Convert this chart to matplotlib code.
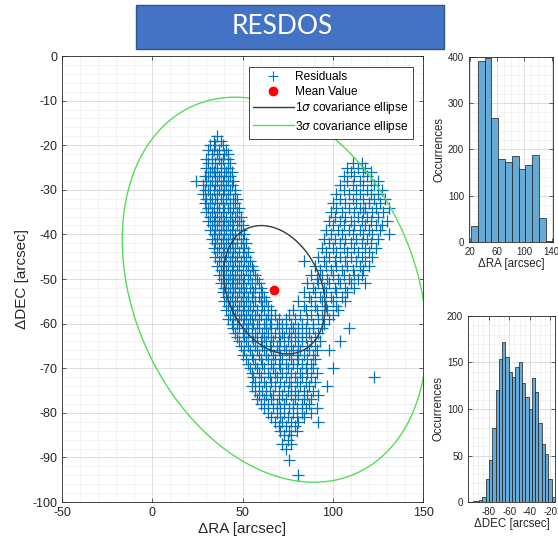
import numpy as np
import matplotlib
matplotlib.use('Agg')
import matplotlib.pyplot as plt
from matplotlib.patches import Rectangle
from matplotlib.lines import Line2D
from matplotlib.ticker import MultipleLocator

plt.rcParams['font.family'] = ['Liberation Sans', 'DejaVu Sans']
plt.rcParams['axes.unicode_minus'] = False

# residuals: (DEC, [RA values])
residual_rows = [
    (-18, [36]), (-19, [34, 38]), (-20, [32, 35, 39]), (-21, [31, 34, 37, 41]),
    (-22, [33, 36, 40, 42]), (-23, [30, 33, 37, 39, 42]),
    (-24, [31, 35, 38, 43, 111, 116]), (-25, [30, 33, 36, 40, 42, 108, 114, 118]),
    (-26, [32, 34, 38, 41, 44, 110, 117, 121]),
    (-27, [29, 31, 35, 37, 40, 43, 106, 112, 119]),
    (-28, [24, 30, 33, 36, 39, 42, 45, 108, 115, 121, 125]),
    (-29, [28, 32, 35, 38, 41, 44, 104, 111, 117, 123]),
    (-30, [29, 31, 34, 37, 40, 43, 46, 106, 113, 119, 127]),
    (-31, [28, 32, 36, 39, 42, 46, 102, 109, 115, 121, 125]),
    (-32, [30, 33, 35, 38, 41, 45, 47, 104, 111, 117, 123, 129]),
    (-33, [29, 32, 36, 39, 43, 46, 100, 107, 113, 120, 126]),
    (-34, [31, 34, 37, 40, 42, 45, 48, 102, 109, 115, 118, 124, 131]),
    (-35, [30, 33, 36, 39, 43, 47, 99, 105, 112, 117, 122, 128]),
    (-36, [32, 35, 38, 41, 44, 46, 49, 101, 107, 114, 119, 125]),
    (-37, [31, 34, 37, 40, 43, 48, 98, 104, 110, 116, 121, 130]),
    (-38, [33, 36, 39, 42, 45, 47, 50, 100, 106, 112, 118, 124, 127]),
    (-39, [32, 35, 38, 41, 44, 49, 96, 103, 109, 115, 120, 126]),
    (-40, [34, 37, 40, 43, 46, 48, 51, 99, 105, 111, 117, 122, 131]),
    (-41, [33, 36, 39, 42, 45, 50, 95, 101, 107, 113, 119, 125]),
    (-42, [35, 38, 41, 44, 47, 49, 52, 98, 104, 110, 116, 121]),
    (-43, [34, 37, 40, 43, 46, 51, 94, 100, 106, 112, 118, 124]),
    (-44, [36, 39, 42, 45, 48, 50, 53, 96, 102, 108, 114, 120]),
    (-45, [35, 38, 41, 44, 47, 52, 92, 98, 104, 110, 116, 122]),
    (-46, [37, 40, 43, 46, 49, 51, 54, 84, 95, 101, 107, 113, 118]),
    (-47, [36, 39, 42, 45, 48, 53, 55, 90, 96, 102, 108, 115, 120]),
    (-48, [38, 41, 44, 47, 50, 52, 56, 93, 99, 105, 111, 117]),
    (-49, [37, 40, 43, 46, 49, 54, 57, 88, 94, 100, 106, 112, 116]),
    (-50, [39, 42, 45, 48, 51, 53, 58, 91, 97, 103, 109, 114]),
    (-51, [38, 41, 44, 47, 50, 55, 59, 86, 92, 98, 104, 110, 118]),
    (-52, [40, 43, 46, 49, 52, 54, 57, 60, 89, 95, 101, 107, 112]),
    (-53, [39, 42, 45, 48, 51, 56, 61, 84, 90, 96, 102, 108]),
    (-54, [41, 44, 47, 50, 53, 55, 59, 62, 87, 93, 99, 105]),
    (-55, [40, 43, 46, 49, 52, 57, 60, 63, 81, 88, 94, 100, 107]),
    (-56, [42, 45, 48, 51, 54, 56, 61, 64, 84, 90, 96, 102]),
    (-57, [41, 44, 47, 50, 53, 58, 62, 66, 78, 85, 91, 97, 103]),
    (-58, [43, 46, 49, 52, 55, 57, 60, 64, 68, 76, 82, 88, 94, 100]),
    (-59, [42, 45, 48, 51, 54, 59, 63, 66, 70, 74, 79, 86, 92, 98]),
    (-60, [44, 47, 50, 53, 56, 58, 62, 65, 69, 72, 77, 83, 89, 95]),
    (-61, [45, 48, 52, 55, 59, 63, 66, 70, 74, 78, 81, 85, 89, 94, 109]),
    (-62, [46, 50, 53, 57, 61, 64, 68, 72, 76, 79, 83, 87, 92]),
    (-63, [47, 51, 55, 58, 62, 66, 70, 73, 77, 81, 85, 90]),
    (-64, [48, 52, 56, 60, 63, 67, 71, 75, 79, 83, 88, 93, 104]),
    (-65, [49, 53, 57, 61, 65, 69, 73, 77, 81, 86, 90]),
    (-66, [51, 54, 58, 62, 66, 70, 74, 78, 82, 87, 91, 98]),
    (-67, [50, 55, 59, 63, 67, 71, 76, 80, 84, 89]),
    (-68, [52, 56, 60, 64, 68, 72, 77, 81, 86, 90]),
    (-69, [53, 57, 61, 66, 70, 74, 78, 83, 88]),
    (-70, [54, 58, 62, 67, 71, 75, 80, 85, 89, 100]),
    (-71, [55, 59, 64, 68, 72, 77, 82, 86, 91]),
    (-72, [56, 60, 65, 69, 74, 79, 83, 88, 123]),
    (-73, [57, 62, 66, 71, 76, 80, 85, 90]),
    (-74, [55, 59, 63, 68, 73, 77, 82, 87, 97]),
    (-75, [57, 61, 65, 70, 75, 79, 84, 89]),
    (-76, [59, 63, 67, 72, 77, 81, 86, 92]),
    (-77, [58, 62, 66, 70, 74, 79, 84, 88]),
    (-78, [60, 64, 69, 73, 78, 83, 87]),
    (-79, [62, 67, 71, 76, 80, 85, 91]),
    (-80, [64, 69, 73, 78, 83, 88]),
    (-81, [66, 71, 75, 80, 84]),
    (-82, [68, 72, 77, 81, 92]),
    (-83, [70, 74, 79]), (-84, [71, 76, 80]), (-85, [73, 77]),
    (-86, [75]), (-87, [72, 77]), (-88, [74]), (-90.5, [76]), (-94, [81]),
]

mean_ra, mean_dec = 67.7, -52.4
cov_res = [[790.0, -105.0], [-105.0, 207.0]]

ra_edge0, ra_binw = 21.5, 10.0
ra_counts = [35, 391, 398, 268, 179, 172, 185, 157, 166, 188, 52, 2]
dec_edge0, dec_binw = -95.6, 3.2
dec_counts = [1, 1, 2, 5, 25, 45, 80, 120, 154, 172, 156, 140, 134, 145,
              151, 128, 113, 100, 133, 118, 85, 62, 52, 25, 5]

res_ra = [r for d, row in residual_rows for r in row]
res_dec = [d for d, row in residual_rows for r in row]

fig = plt.figure(figsize=(5.58, 5.48), dpi=100)
fig.patches.append(Rectangle((0.2437, 0.9106), 0.552, 0.0803, transform=fig.transFigure,
                             facecolor='#4472C4', edgecolor='#2F528F', lw=1, zorder=5))
fig.text(0.506, 0.951, 'RESDOS', color='white', fontsize=19, family='Lato',
         ha='center', va='center', zorder=6)

dark = '#262626'
blue = '#0072BD'


def style_axes(ax, fs):
    ax.tick_params(which='both', direction='in', top=True, right=True, colors=dark,
                   labelsize=fs, width=0.5)
    ax.tick_params(which='major', length=3)
    ax.tick_params(which='minor', length=0)
    for s in ax.spines.values():
        s.set_color(dark)
        s.set_linewidth(0.6)
    ax.grid(which='major', color='#D8D8D8', lw=0.6)
    ax.grid(which='minor', color='#EDEDED', lw=0.5)
    ax.set_axisbelow(True)


ax = fig.add_axes([0.1111, 0.0839, 0.647, 0.8139])
ax.plot(res_ra, res_dec, '+', color=blue, ms=8.5, mew=0.9, zorder=2)

t = np.linspace(0, 2 * np.pi, 300)
L = np.linalg.cholesky(np.array(cov_res))
e1 = L @ np.vstack([np.cos(t), np.sin(t)])
ax.plot(mean_ra + e1[0], mean_dec + e1[1], color='#3a3a3a', lw=1.0, zorder=3)
ax.plot(mean_ra + 3 * e1[0], mean_dec + 3 * e1[1], color='#55DD55', lw=1.0, zorder=3)
ax.plot([mean_ra], [mean_dec], 'o', color='red', ms=6, zorder=4)

ax.set_xlim(-50, 150)
ax.set_ylim(-100, 0)
ax.xaxis.set_major_locator(MultipleLocator(50))
ax.xaxis.set_minor_locator(MultipleLocator(10))
ax.yaxis.set_major_locator(MultipleLocator(10))
ax.yaxis.set_minor_locator(MultipleLocator(2))
style_axes(ax, 9)
ax.set_xlabel('ΔRA [arcsec]', fontsize=11, color=dark, labelpad=2)
ax.set_ylabel('ΔDEC [arcsec]', fontsize=11, color=dark, labelpad=2)

handles = [
    Line2D([], [], ls='none', marker='+', color=blue, ms=6.5, mew=0.8),
    Line2D([], [], ls='none', marker='o', color='red', ms=6),
    Line2D([], [], color='#3a3a3a', lw=1.0),
    Line2D([], [], color='#55DD55', lw=1.0),
]
labels = ['Residuals', 'Mean Value', r'1$\sigma$ covariance ellipse', r'3$\sigma$ covariance ellipse']
leg = ax.legend(handles, labels, loc='upper right', bbox_to_anchor=(0.972, 0.975),
                fontsize=8.6, fancybox=False, framealpha=1, edgecolor=dark,
                handlelength=3.4, borderpad=0.35, labelspacing=0.2, handletextpad=0.15,
                borderaxespad=0)
leg.get_frame().set_linewidth(0.6)

# RA histogram
ax1 = fig.add_axes([0.8405, 0.5584, 0.1505, 0.3376])
ra_edges = ra_edge0 + ra_binw * np.arange(len(ra_counts))
ax1.bar(ra_edges, ra_counts, width=ra_binw, align='edge', color='#66AAD7',
        edgecolor='#1a1a1a', lw=0.5, zorder=2)
ax1.set_xlim(18.5, 142)
ax1.set_ylim(0, 400)
ax1.xaxis.set_minor_locator(MultipleLocator(10))
ax1.yaxis.set_major_locator(MultipleLocator(100))
ax1.yaxis.set_minor_locator(MultipleLocator(20))
ax1.set_xticks([20, 60, 100, 140])
style_axes(ax1, 7)
ax1.set_xlabel('ΔRA [arcsec]', fontsize=8.3, color=dark, labelpad=1)
ax1.set_ylabel('Occurrences', fontsize=8.3, color=dark, labelpad=2)

# DEC histogram
ax2 = fig.add_axes([0.8387, 0.0839, 0.156, 0.3395])
dec_edges = dec_edge0 + dec_binw * np.arange(len(dec_counts))
ax2.bar(dec_edges, dec_counts, width=dec_binw, align='edge', color='#66AAD7',
        edgecolor='#1a1a1a', lw=0.5, zorder=2)
ax2.set_xlim(-100, -15.5)
ax2.set_ylim(0, 200)
ax2.xaxis.set_minor_locator(MultipleLocator(5))
ax2.yaxis.set_major_locator(MultipleLocator(50))
ax2.yaxis.set_minor_locator(MultipleLocator(10))
ax2.set_xticks([-80, -60, -40, -20])
style_axes(ax2, 7)
ax2.set_xlabel('ΔDEC [arcsec]', fontsize=8.3, color=dark, labelpad=1)
ax2.set_ylabel('Occurrences', fontsize=8.3, color=dark, labelpad=2)

fig.savefig('out.png', dpi=100)
